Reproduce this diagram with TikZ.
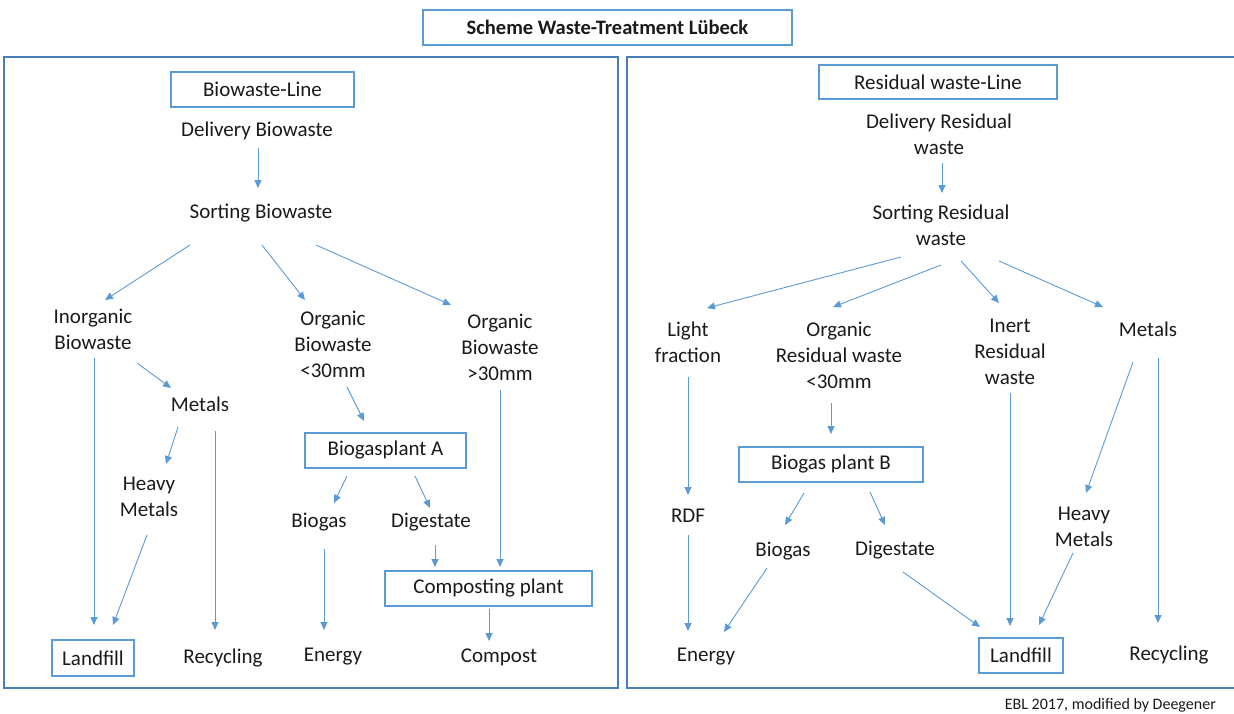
\documentclass[tikz,border=0pt]{standalone}
\usepackage{fontspec}
\setmainfont{Carlito}
\usetikzlibrary{arrows.meta}
\definecolor{lblue}{HTML}{5B9BD5}
\definecolor{pblue}{HTML}{4A7EBB}
\definecolor{txt}{HTML}{1A1A1A}
\tikzset{
  lbl/.style={inner sep=0pt, align=center, text=txt, font=\fontsize{21}{26}\selectfont},
  boxed/.style={lbl, draw=lblue, line width=1.4pt},
  arr/.style={draw=lblue, line width=0.9pt, -{Triangle[length=8pt,width=7pt]}},
  panel/.style={draw=pblue, line width=1.4pt}
}
\begin{document}
\begin{tikzpicture}[x=1pt,y=-1pt]
\useasboundingbox (0,0) rectangle (1234,713);
% panels
\draw[panel] (4,57) rectangle (618,688);
\draw[panel] (627,57) rectangle (1240,688);
% title
\node[boxed, minimum width=369, minimum height=35, font=\fontsize{20.5}{24}\selectfont\bfseries] (title) at (607.5,27.5) {Scheme Waste-Treatment Lübeck};
% ---------- left: biowaste line
\node[boxed, minimum width=183, minimum height=35] (bwl) at (262.5,89.5) {Biowaste-Line};
\node[lbl] (delB) at (257,131) {Delivery Biowaste};
\node[lbl] (sortB) at (261,213) {Sorting Biowaste};
\node[lbl] (inorg) at (93,329.5) {Inorganic\\Biowaste};
\node[lbl] (org1) at (333,344) {Organic\\Biowaste\\<30mm};
\node[lbl] (org2) at (500,347) {Organic\\Biowaste\\>30mm};
\node[lbl] (metL) at (200,404) {Metals};
\node[lbl] (heavyL) at (149,496.5) {Heavy\\Metals};
\node[boxed, minimum width=82, minimum height=36] (landL) at (93,658) {Landfill};
\node[lbl] (recL) at (223,658) {Recycling};
\node[boxed, minimum width=161, minimum height=35] (bgA) at (385.5,450.5) {Biogasplant A};
\node[lbl] (biogasL) at (319,522) {Biogas};
\node[lbl] (digL) at (431,522) {Digestate};
\node[lbl] (enL) at (333,657) {Energy};
\node[boxed, minimum width=207, minimum height=35] (comp) at (488.5,588.5) {Composting plant};
\node[lbl] (compost) at (499,657) {Compost};
% ---------- right: residual waste line
\node[boxed, minimum width=238, minimum height=34] (rwl) at (938,82) {Residual waste-Line};
\node[lbl] (delR) at (939,134) {Delivery Residual\\waste};
\node[lbl] (sortR) at (941,225.5) {Sorting Residual\\waste};
\node[lbl] (light) at (688,342.5) {Light\\fraction};
\node[lbl] (org3) at (839,355.5) {Organic\\Residual waste\\<30mm};
\node[lbl] (inert) at (1010,351.5) {Inert\\Residual\\waste};
\node[lbl] (metR) at (1148,329) {Metals};
\node[lbl] (rdf) at (688,516) {RDF};
\node[lbl] (enR) at (706,657) {Energy};
\node[boxed, minimum width=184, minimum height=35] (bgB) at (831,464.5) {Biogas plant B};
\node[lbl] (biogasR) at (783,551) {Biogas};
\node[lbl] (digR) at (895,550) {Digestate};
\node[boxed, minimum width=84, minimum height=35] (landR) at (1021,655.5) {Landfill};
\node[lbl] (heavyR) at (1084,527) {Heavy\\Metals};
\node[lbl] (recR) at (1169,655) {Recycling};
\node[lbl, anchor=east, font=\fontsize{16}{19}\selectfont] (foot) at (1216,705) {EBL 2017, modified by Deegener};
% ---------- left arrows
\draw[arr] ([shift={(1,17)}]delB.center) -- ([shift={(-3,-25)}]sortB.center);
\draw[arr] ([shift={(-71,32)}]sortB.center) -- ([shift={(12,-29.5)}]inorg.center);
\draw[arr] ([shift={(1,32)}]sortB.center) -- ([shift={(-28,-44)}]org1.center);
\draw[arr] ([shift={(55,32)}]sortB.center) -- ([shift={(-49,-42)}]org2.center);
\draw[arr] ([shift={(1,28.5)}]inorg.center) -- ([shift={(1,-33)}]landL.center);
\draw[arr] ([shift={(44,33.5)}]inorg.center) -- ([shift={(-29,-16)}]metL.center);
\draw[arr] ([shift={(-22,23)}]metL.center) -- ([shift={(17,-32.5)}]heavyL.center);
\draw[arr] ([shift={(15,27)}]metL.center) -- ([shift={(-8,-28)}]recL.center);
\draw[arr] ([shift={(-2,38.5)}]heavyL.center) -- ([shift={(20,-33)}]landL.center);
\draw[arr] ([shift={(14,43)}]org1.center) -- ([shift={(-21.5,-29.5)}]bgA.center);
\draw[arr] ([shift={(-38.5,25.5)}]bgA.center) -- ([shift={(15,-19)}]biogasL.center);
\draw[arr] ([shift={(29.5,25.5)}]bgA.center) -- ([shift={(-1,-14)}]digL.center);
\draw[arr] ([shift={(5,27)}]biogasL.center) -- ([shift={(-9,-27)}]enL.center);
\draw[arr] ([shift={(4,23)}]digL.center) -- ([shift={(-53.5,-21.5)}]comp.center);
\draw[arr] ([shift={(0,43)}]org2.center) -- ([shift={(11.5,-21.5)}]comp.center);
\draw[arr] ([shift={(0.5,20.5)}]comp.center) -- ([shift={(-10,-16)}]compost.center);
% ---------- right arrows
\draw[arr] ([shift={(3,29)}]delR.center) -- ([shift={(1,-32.5)}]sortR.center);
\draw[arr] ([shift={(-40,31.5)}]sortR.center) -- ([shift={(19,-34.5)}]light.center);
\draw[arr] ([shift={(0,39.5)}]sortR.center) -- ([shift={(-6,-48.5)}]org3.center);
\draw[arr] ([shift={(20,35.5)}]sortR.center) -- ([shift={(-11,-48.5)}]inert.center);
\draw[arr] ([shift={(58,35.5)}]sortR.center) -- ([shift={(-45,-22)}]metR.center);
\draw[arr] ([shift={(0,34.5)}]light.center) -- ([shift={(0,-21)}]rdf.center);
\draw[arr] ([shift={(0,19)}]rdf.center) -- ([shift={(-18,-26)}]enR.center);
\draw[arr] ([shift={(-8,47.5)}]org3.center) -- ([shift={(0,-30.5)}]bgB.center);
\draw[arr] ([shift={(-27,28.5)}]bgB.center) -- ([shift={(2,-26)}]biogasR.center);
\draw[arr] ([shift={(39,27.5)}]bgB.center) -- ([shift={(-10,-25)}]digR.center);
\draw[arr] ([shift={(-16,17)}]biogasR.center) -- ([shift={(18,-25)}]enR.center);
\draw[arr] ([shift={(8,22)}]digR.center) -- ([shift={(-41,-28.5)}]landR.center);
\draw[arr] ([shift={(0,41.5)}]inert.center) -- ([shift={(-11,-29.5)}]landR.center);
\draw[arr] ([shift={(-15,33)}]metR.center) -- ([shift={(2,-34)}]heavyR.center);
\draw[arr] ([shift={(10,29)}]metR.center) -- ([shift={(-11,-32)}]recR.center);
\draw[arr] ([shift={(-11,26)}]heavyR.center) -- ([shift={(18,-30.5)}]landR.center);
\end{tikzpicture}
\end{document}
